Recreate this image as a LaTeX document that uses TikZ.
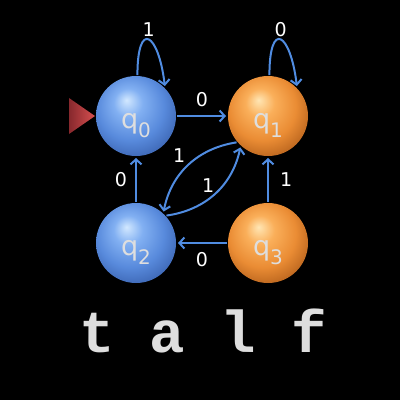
\documentclass[tikz,border=0pt]{standalone}
\usepackage{fontspec}
\setsansfont{DejaVu Sans}
\newfontfamily\courfont{Liberation Mono}
\usepackage{tikz}
\usetikzlibrary{arrows.meta}
\usepackage{xcolor}

\definecolor{edgeblue}{RGB}{80,140,225}
\definecolor{textgray}{RGB}{222,222,222}
\definecolor{initdark}{RGB}{135,40,45}
\definecolor{initred}{RGB}{215,80,80}
\definecolor{blueA}{RGB}{210,232,255}
\definecolor{blueB}{RGB}{130,176,242}
\definecolor{blueC}{RGB}{88,138,220}
\definecolor{blueD}{RGB}{55,95,172}
\definecolor{orangeA}{RGB}{255,230,180}
\definecolor{orangeB}{RGB}{250,175,90}
\definecolor{orangeC}{RGB}{234,140,52}
\definecolor{orangeD}{RGB}{175,92,25}

\pgfdeclareradialshading{blueball}{\pgfpoint{-6bp}{10bp}}{%
  color(0bp)=(blueA); color(9bp)=(blueB); color(21bp)=(blueC);
  color(33bp)=(blueD); color(50bp)=(blueD)}
\pgfdeclareradialshading{orangeball}{\pgfpoint{-6bp}{10bp}}{%
  color(0bp)=(orangeA); color(9bp)=(orangeB); color(21bp)=(orangeC);
  color(33bp)=(orangeD); color(50bp)=(orangeD)}

\newcommand{\qlab}[1]{\raisebox{-12pt}[0pt][0pt]{\fontsize{27}{27}\selectfont q\raisebox{-9pt}{\fontsize{20}{20}\selectfont #1}}}

\begin{document}
\begin{tikzpicture}[->,>={Straight Barb[length=5pt,width=11pt]},shorten >=1pt,auto,
	node distance=132pt,x=1pt,y=1pt,line width=2pt,
	ball node/.style={circle,minimum size=80pt,inner sep=0pt,shade,
		text=textgray,font=\sffamily},
	blue node/.style={ball node,shading=blueball},
	orange node/.style={ball node,shading=orangeball}]

	\useasboundingbox (0,0) rectangle (400,-400);
	\fill[black] (0,0) rectangle (400,-400);

	\node[blue node] (q0) at (136,-116) {\qlab{0}};
	\node[orange node] (q1) [right of=q0] {\qlab{1}};
	\node[blue node] (q2) [below of=q0,node distance=127pt] {\qlab{2}};
	\node[orange node] (q3) [right of=q2] {\qlab{3}};

	\coordinate (start) at ([xshift=-26pt]q0.west);
	\fill[left color=initdark,right color=initred] ([yshift=18pt]start) -- (q0.west)
		-- ([yshift=-18pt]start) -- cycle;

	\node[text=textgray,font=\courfont\bfseries\fontsize{59}{59}\selectfont] (title)
		at (203,-331) {t a l f};

	\path[color=edgeblue,every node/.style={font=\sffamily\fontsize{19}{19}\selectfont,
		text=white,inner sep=8pt}]
	(q0) edge node [above] {0} (q1)
	(q0.88) edge [out=90,in=97,looseness=4.7] node [above,inner sep=2pt] {1} (q0.45)
	(q1.88) edge [out=90,in=97,looseness=4.7] node [above,inner sep=2pt] {0} (q1.45)
	(q2) edge node [left] {0} (q0)
	(q3) edge node [right,inner sep=11pt] {1} (q1)
	(q3) edge node [below] {0} (q2)
	(q1.220) edge [bend right=35] node [above left,inner sep=2pt] {1} (q2.48)
	(q2.42) edge [bend right=35] node [above left,inner sep=0pt] {1} (q1.228)
;
\end{tikzpicture}
\end{document}
